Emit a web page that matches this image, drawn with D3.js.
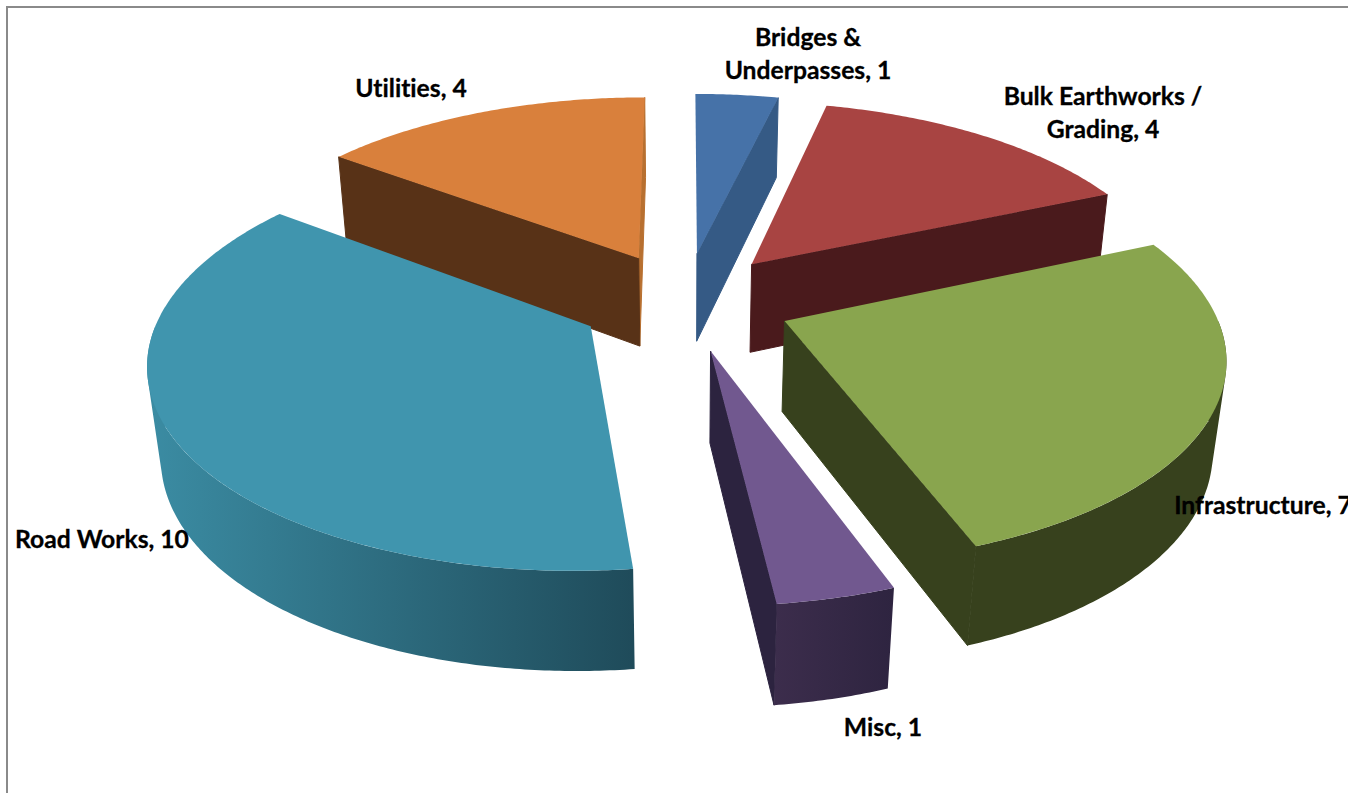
<!DOCTYPE html>
<html><head><meta charset="utf-8">
<script src="https://cdn.jsdelivr.net/npm/d3@7/dist/d3.min.js"></script>
<style>html,body{margin:0;padding:0;background:#fff;overflow:hidden}svg{display:block}
text{font-family:Lato,"Open Sans",sans-serif;font-weight:700;font-size:24.7px;fill:#000;stroke:#000;stroke-width:0.3px;font-variant-ligatures:none}</style>
</head><body>
<script>
// Data
const categories = ["Bridges & Underpasses","Bulk Earthworks / Grading","Infrastructure","Misc","Road Works","Utilities"];
const values = [1,4,7,1,10,4];
const labelLines = [["Bridges &","Underpasses, 1"],["Bulk Earthworks /","Grading, 4"],["Infrastructure, 7"],["Misc, 1"],["Road Works, 10"],["Utilities, 4"]];
// Styles
const topColors  = ["#4672A8","#A84442","#89A54E","#71588F","#4095AE","#D9803C"];
const sideColors = ["#355A85","#4A1A1C","#37411D","#2C233F","#2F6E82","#583217"];
const utilitiesEndCut = "#B87030";
const wallStops = [null,null,null,["#3C2D4C","#2E2440"],["#3B8CA3","#1F4B5A"],null];
const labelX = [808,1103,1263,883,102,411];
const labelY = [46,105,514,736,548,97];
const labelYStep = 33;

const W=1348,H=793;
const cx=685, cy=301, fx=427, fy=198, kDepth=0.155, kHeight=0.025, thick=92, explode=0.25;
const clipLo=Math.PI/2, clipHi=3*Math.PI/2;

const svg=d3.select("body").append("svg").attr("width",W).attr("height",H);
const defs=svg.append("defs");
// frame
svg.append("path").attr("d",`M7,${H}V7H${W}`).attr("fill","none").attr("stroke","#8a8a8a").attr("stroke-width",2);

const pie=d3.pie().sort(null).value(d=>d)(values);
function project(X,Y,Z){
  const w=1+kDepth*Y+kHeight*Z;
  return [cx+fx*X/w, cy+(-fy*Y+thick*Z)/w];
}
const line=d3.line();
const slices=pie.map((p,i)=>{
  const mid=(p.startAngle+p.endAngle)/2;
  return {i,p,ox:explode*Math.sin(mid),oy:explode*Math.cos(mid)};
}).sort((a,b)=>b.oy-a.oy);

function rim(s,a0,a1,Z){
  const n=Math.max(2,Math.ceil((a1-a0)/0.01));
  return d3.range(n+1).map(j=>{
    const a=a0+(a1-a0)*j/n;
    return project(s.ox+Math.sin(a),s.oy+Math.cos(a),Z);
  });
}
const g=svg.append("g");
slices.forEach(s=>{
  const a0=s.p.startAngle,a1=s.p.endAngle,i=s.i;
  const apexT=project(s.ox,s.oy,0),apexB=project(s.ox,s.oy,1);
  const cut=(a,fill)=>{
    const t=project(s.ox+Math.sin(a),s.oy+Math.cos(a),0),b=project(s.ox+Math.sin(a),s.oy+Math.cos(a),1);
    g.append("path").attr("d",line([apexT,t,b,apexB])+"Z").attr("fill",fill).attr("stroke",fill).attr("stroke-width",1);
  };
  // only the cut faces that face the viewer
  const isUtil = a1>=2*Math.PI-1e-6;
  if(isUtil){cut(a1,utilitiesEndCut);cut(a0,sideColors[i]);}
  else if(a1<3*Math.PI/2 && a0<Math.PI && !(a1>3*Math.PI/2)) {cut(a1,sideColors[i]);}
  // wall: union of outward-oriented quads, so the silhouette follows the tangent between the rims
  const w0=Math.max(a0,clipLo),w1=Math.min(a1,clipHi);
  if(w1>w0){
    const top=rim(s,w0,w1,0),bot=rim(s,w0,w1,1);
    let fill=sideColors[i];
    const st=wallStops[i];
    if(st){
      const xs=d3.extent(top.concat(bot),d=>d[0]);
      const id="wall"+i;
      const lg=defs.append("linearGradient").attr("id",id).attr("gradientUnits","userSpaceOnUse")
        .attr("x1",xs[0]).attr("x2",xs[1]).attr("y1",0).attr("y2",0);
      lg.append("stop").attr("offset",0).attr("stop-color",st[0]);
      lg.append("stop").attr("offset",1).attr("stop-color",st[1]);
      fill=`url(#${id})`;
    }
    let d="";
    for(let j=0;j<top.length-1;j++){
      let q=[top[j],top[j+1],bot[j+1],bot[j]];
      if(d3.polygonArea(q)<0) q=q.reverse();
      d+=line(q)+"Z";
    }
    g.append("path").attr("d",d).attr("fill",fill).attr("fill-rule","nonzero");
  }
  // top
  g.append("path").attr("d",line([apexT].concat(rim(s,a0,a1,0)))+"Z").attr("fill",topColors[i]);
});
// labels
const lab=svg.append("g");
labelLines.forEach((ls,i)=>{
  ls.forEach((t,j)=>{
    lab.append("text").attr("x",labelX[i]).attr("y",labelY[i]+j*labelYStep).attr("text-anchor","middle").text(t);
  });
});
</script>
</body></html>
